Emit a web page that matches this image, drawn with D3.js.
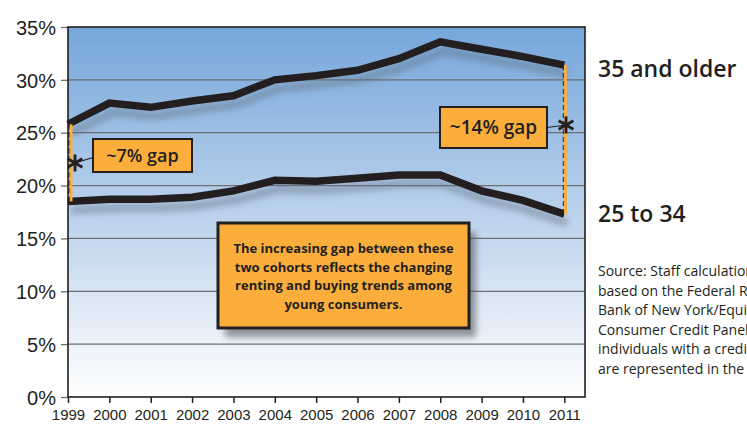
<!DOCTYPE html>
<html>
<head>
<meta charset="utf-8">
<script src="https://cdn.jsdelivr.net/npm/d3@7"></script>
<style>
  body { margin: 0; background: #fff; }
  svg { display: block; font-family: "Open Sans", sans-serif; }
</style>
</head>
<body>
<div id="chart"></div>
<script>
// chart data
const years = [1999, 2000, 2001, 2002, 2003, 2004, 2005, 2006, 2007, 2008, 2009, 2010, 2011];
const olderShare = [25.8, 27.8, 27.4, 28.0, 28.5, 30.0, 30.4, 30.9, 32.0, 33.6, 32.9, 32.2, 31.4];
const youngShare = [18.5, 18.7, 18.7, 18.9, 19.5, 20.5, 20.4, 20.7, 21.0, 21.0, 19.5, 18.6, 17.3];
const yTicks = [0, 5, 10, 15, 20, 25, 30, 35];
const seriesLabels = ["35 and older", "25 to 34"];
const gapLabels = ["~7% gap", "~14% gap"];
const noteLines = [
  "The increasing gap between these",
  "two cohorts reflects the changing",
  "renting and buying trends among",
  "young consumers."
];
const sourceLines = [
  "Source: Staff calculations",
  "based on the Federal Reserve",
  "Bank of New York/Equifax",
  "Consumer Credit Panel. Only",
  "individuals with a credit report",
  "are represented in the data."
];

const width = 747;
const height = 424;
const margin = { top: 27, right: 162, bottom: 27, left: 68 };
const ink = "#231f20";
const orange = "#fbae3c";

const svg = d3.select("#chart")
  .append("svg")
  .attr("width", width)
  .attr("height", height);

const x = d3.scaleLinear()
  .domain([1999, 2011.5])
  .range([margin.left, width - margin.right]);

const y = d3.scaleLinear()
  .domain([0, 35])
  .range([height - margin.bottom, margin.top]);

const defs = svg.append("defs");

// sky gradient behind the plot
const grad = defs.append("linearGradient")
  .attr("id", "sky")
  .attr("x1", 0).attr("y1", 0).attr("x2", 0).attr("y2", 1);
grad.append("stop").attr("offset", "0%").attr("stop-color", "#75a7db");
grad.append("stop").attr("offset", "45%").attr("stop-color", "#b4cdea");
grad.append("stop").attr("offset", "100%").attr("stop-color", "#ffffff");

// soft drop shadow
const shadow = defs.append("filter")
  .attr("id", "shadow")
  .attr("x", "-20%").attr("y", "-20%")
  .attr("width", "140%").attr("height", "160%");
shadow.append("feGaussianBlur").attr("stdDeviation", 3);

svg.append("rect")
  .attr("x", x.range()[0])
  .attr("y", y(35))
  .attr("width", x.range()[1] - x.range()[0])
  .attr("height", y(0) - y(35))
  .attr("fill", "url(#sky)");

// gridlines
svg.append("g")
  .selectAll("line")
  .data(yTicks.filter(d => d > 0 && d < 35))
  .join("line")
  .attr("x1", x.range()[0])
  .attr("x2", x.range()[1])
  .attr("y1", d => y(d))
  .attr("y2", d => y(d))
  .attr("stroke", "#6d6e71")
  .attr("stroke-width", 1.3);

// y axis
const yAxis = svg.append("g")
  .attr("transform", `translate(${margin.left},0)`)
  .call(d3.axisLeft(y).tickValues(yTicks).tickFormat(d => d + "%").tickSize(7).tickPadding(5));
yAxis.select(".domain").remove();
yAxis.selectAll("line").attr("stroke", "#6d6e71").attr("stroke-width", 1.3);
yAxis.selectAll("text")
  .attr("fill", ink)
  .style("font-size", "20px")
  .attr("dy", "0.36em");

// x axis
const xAxis = svg.append("g")
  .attr("transform", `translate(0,${height - margin.bottom})`)
  .call(d3.axisBottom(x).tickValues(years).tickFormat(d3.format("d")).tickSize(6).tickPadding(8));
xAxis.select(".domain").remove();
xAxis.selectAll("line").attr("stroke", ink).attr("stroke-width", 1.5);
xAxis.selectAll("text")
  .attr("fill", ink)
  .attr("dy", "0.6em")
  .style("font-size", "15px");

// plot frame
svg.append("rect")
  .attr("x", x.range()[0])
  .attr("y", y(35))
  .attr("width", x.range()[1] - x.range()[0])
  .attr("height", y(0) - y(35))
  .attr("fill", "none")
  .attr("stroke", ink)
  .attr("stroke-width", 1.6);

const line = d3.line()
  .x((d, i) => x(years[i]))
  .y(d => y(d));

const series = [olderShare, youngShare];

// shadows under the lines
svg.append("g")
  .attr("transform", "translate(3,9)")
  .selectAll("path")
  .data(series)
  .join("path")
  .attr("d", line)
  .attr("fill", "none")
  .attr("stroke", "#5d6a7c")
  .attr("stroke-opacity", 0.45)
  .attr("stroke-width", 8)
  .attr("filter", "url(#shadow)");

svg.append("g")
  .selectAll("path")
  .data(series)
  .join("path")
  .attr("d", line)
  .attr("fill", "none")
  .attr("stroke", ink)
  .attr("stroke-width", 7.5)
  .attr("stroke-linejoin", "miter");

// six-spoke asterisk drawn from strokes
function asterisk(cx, cy, r) {
  const g = svg.append("g").attr("transform", `translate(${cx},${cy})`);
  [0, 60, 120].forEach(a => {
    const rad = (a + 90) * Math.PI / 180;
    g.append("line")
      .attr("x1", -r * Math.cos(rad)).attr("y1", -r * Math.sin(rad))
      .attr("x2", r * Math.cos(rad)).attr("y2", r * Math.sin(rad))
      .attr("stroke", ink)
      .attr("stroke-width", 2.8);
  });
}

// gap markers at first and last year
const gaps = [
  { i: 0, side: 1, box: [93, 139, 99, 33], star: [75, 163], label: gapLabels[0], size: 18 },
  { i: years.length - 1, side: -1, box: [440, 107, 107, 41], star: [566, 125], label: gapLabels[1], size: 19 }
];

gaps.forEach(g => {
  const gx = x(years[g.i]) + (g.i === 0 ? 2 : 0);
  const yTop = y(olderShare[g.i]);
  const yBot = y(youngShare[g.i]);
  svg.append("line")
    .attr("x1", gx + 1).attr("x2", gx + 1)
    .attr("y1", yTop).attr("y2", yBot)
    .attr("stroke", orange).attr("stroke-width", 3);
  svg.append("line")
    .attr("x1", gx - 1).attr("x2", gx - 1)
    .attr("y1", yTop).attr("y2", yBot)
    .attr("stroke", ink).attr("stroke-width", 1)
    .attr("stroke-dasharray", "5,3");

  const [bx, by, bw, bh] = g.box;
  const [sx, sy] = g.star;
  svg.append("line")
    .attr("x1", sx).attr("y1", sy)
    .attr("x2", g.side > 0 ? bx : bx + bw).attr("y2", by + bh / 2 + (g.side > 0 ? 2 : 0))
    .attr("stroke", ink).attr("stroke-width", 1.2);
  asterisk(sx, sy, 8.5);

  svg.append("rect")
    .attr("x", bx).attr("y", by)
    .attr("width", bw).attr("height", bh)
    .attr("fill", orange)
    .attr("stroke", ink)
    .attr("stroke-width", 2);
  svg.append("text")
    .attr("x", bx + bw / 2).attr("y", by + bh / 2)
    .attr("dy", "0.35em")
    .attr("text-anchor", "middle")
    .attr("fill", ink)
    .style("font-size", g.size + "px")
    .style("font-weight", "600")
    .text(g.label);
});

// callout note
const note = { x: 218, y: 223, w: 251, h: 105 };
svg.append("rect")
  .attr("x", note.x + 7).attr("y", note.y + 9)
  .attr("width", note.w).attr("height", note.h)
  .attr("fill", "#55595f")
  .attr("opacity", 0.6)
  .attr("filter", "url(#shadow)");
svg.append("rect")
  .attr("x", note.x).attr("y", note.y)
  .attr("width", note.w).attr("height", note.h)
  .attr("fill", orange)
  .attr("stroke", ink)
  .attr("stroke-width", 3);
svg.append("g")
  .selectAll("text")
  .data(noteLines)
  .join("text")
  .attr("x", note.x + note.w / 2)
  .attr("y", (d, i) => 253 + i * 18.7)
  .attr("text-anchor", "middle")
  .attr("fill", ink)
  .style("font-size", "13px")
  .style("font-weight", "700")
  .text(d => d);

// series labels
svg.append("g")
  .selectAll("text")
  .data(seriesLabels)
  .join("text")
  .attr("x", 598)
  .attr("y", (d, i) => [77, 222][i])
  .attr("fill", ink)
  .style("font-size", "23px")
  .style("font-weight", "600")
  .text(d => d);

// source note
svg.append("g")
  .selectAll("text")
  .data(sourceLines)
  .join("text")
  .attr("x", 598)
  .attr("y", (d, i) => 276 + i * 19.5)
  .attr("fill", ink)
  .style("font-size", "14px")
  .text(d => d);
</script>
</body>
</html>
